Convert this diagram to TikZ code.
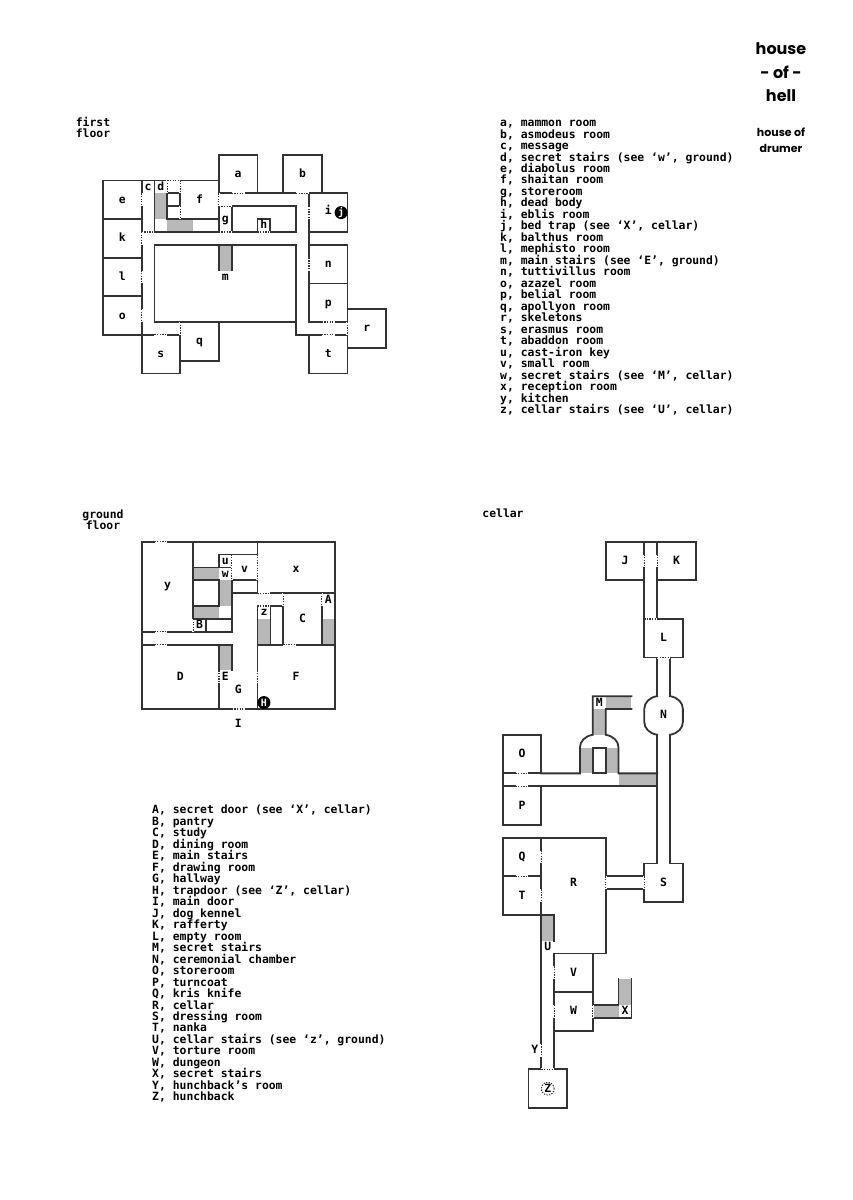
\documentclass[tikz,border=0pt]{standalone}
\usepackage{fontspec}
\setmonofont{DejaVu Sans Mono}
\setsansfont{Poppins}
\definecolor{stairgrey}{gray}{0.72}
\newcommand{\dr}[2]{\draw[white,line width=2.2pt] #1 -- #2; \draw[doorline] #1 -- #2;}
\newcommand{\gr}[2]{\fill[stairgrey] #1 rectangle #2;}
\newcommand{\tightlines}{\lineskiplimit=-20pt\relax}
\tikzset{
 wall/.style={line width=1.8pt,line cap=rect,black!80},
 doorline/.style={line width=1.2pt,black!80,dash pattern=on 1.3pt off 1.3pt},
 lab/.style={font=\ttfamily\bfseries\fontsize{11.4}{11.4}\selectfont,inner sep=0pt,text height=7pt,text depth=0pt},
 blackdot/.style={circle,fill=black,text=white,minimum size=13pt,inner sep=0pt,font=\ttfamily\bfseries\fontsize{10}{10}\selectfont},
 listing/.style={font=\ttfamily\bfseries\fontsize{11.4}{11.48}\selectfont\tightlines,inner sep=0pt,anchor=north west,align=left},
 headtext/.style={font=\ttfamily\bfseries\fontsize{11.4}{11.48}\selectfont\tightlines,inner sep=0pt,align=center},
 titletext/.style={font=\sffamily\bfseries\fontsize{16}{23.5}\selectfont\tightlines,inner sep=0pt,align=center},
 subtitle/.style={font=\sffamily\bfseries\fontsize{11}{16}\selectfont\tightlines,inner sep=0pt,align=center},
 grid1/.style={x=12.87pt,y=-12.87pt},
}
\begin{document}
\begin{tikzpicture}[x=1pt,y=-1pt]
\useasboundingbox (0,0) rectangle (853,1200);
\fill[white] (0,0) rectangle (853,1200);

% titles
\node[titletext] (title) at (781,72.5) {house\\- of -\\hell};
\node[subtitle] (sub) at (781,140) {house of\\drumer};
\node[headtext] (h1) at (93,127.5) {first\\floor};
\node[headtext] (h2) at (103,519.5) {ground\\floor};
\node[headtext] (h3) at (503,513.5) {cellar};

% lists
\node[listing] (l1) at (500,120) {a, mammon room\\b, asmodeus room\\c, message\\d, secret stairs (see ‘w’, ground)\\e, diabolus room\\f, shaitan room\\g, storeroom\\h, dead body\\i, eblis room\\j, bed trap (see ‘X’, cellar)\\k, balthus room\\l, mephisto room\\m, main stairs (see ‘E’, ground)\\n, tuttivillus room\\o, azazel room\\p, belial room\\q, apollyon room\\r, skeletons\\s, erasmus room\\t, abaddon room\\u, cast-iron key\\v, small room\\w, secret stairs (see ‘M’, cellar)\\x, reception room\\y, kitchen\\z, cellar stairs (see ‘U’, cellar)};
\node[listing] (l2) at (152,805) {A, secret door (see ‘X’, cellar)\\B, pantry\\C, study\\D, dining room\\E, main stairs\\F, drawing room\\G, hallway\\H, trapdoor (see ‘Z’, cellar)\\I, main door\\J, dog kennel\\K, rafferty\\L, empty room\\M, secret stairs\\N, ceremonial chamber\\O, storeroom\\P, turncoat\\Q, kris knife\\R, cellar\\S, dressing room\\T, nanka\\U, cellar stairs (see ‘z’, ground)\\V, torture room\\W, dungeon\\X, secret stairs\\Y, hunchback’s room\\Z, hunchback};

% ---------- first floor ----------
\begin{scope}[shift={(103,154.7)},grid1]
\gr{(4,3)}{(5,5)} \gr{(5,5)}{(7,6)} \gr{(9,7)}{(10,9)}
\foreach \a/\b/\c/\d in {9/0/12/3,14/0/17/3,0/2/3/5,0/5/3/8,0/8/3/11,0/11/3/14,3/14/6/17,6/13/9/16,16/3/19/6,16/7/19/10,16/10/19/13,19/12/22/15,16/14/19/17,4/7/15/13,10/4/15/6,5/3/6/4,12/5/13/6}
  \draw[wall] (\a,\b) rectangle (\c,\d);
\draw[wall] (3,2) -- (9,2) -- (9,6) -- (4,6) -- (4,2);
\draw[wall] (3,2) -- (3,14);
\draw[wall] (5,4) -- (5,5) -- (9,5);
\draw[wall] (9,3) -- (16,3);
\draw[wall] (9,4) -- (10,4);
\draw[wall] (9,6) -- (10,6);
\draw[wall] (9,7) -- (9,9) (10,7) -- (10,9);
\draw[wall] (15,13) -- (15,14) -- (16,14);
\draw[wall] (16,6) -- (16,7);
\dr{(10,3)}{(11,3)} \dr{(15,3)}{(16,3)}
\dr{(5,2)}{(5,3)} \dr{(5,2)}{(6,2)} \dr{(6,2)}{(6,3)} \dr{(6,4)}{(6,5)}
\dr{(3,3)}{(3,4)} \dr{(3,6)}{(4,6)} \dr{(3,6)}{(3,7)} \dr{(3,9)}{(3,10)} \dr{(3,12)}{(3,13)}
\dr{(9,3)}{(9,4)} \dr{(9,4)}{(10,4)} \dr{(9,6)}{(10,6)} \dr{(12,6)}{(13,6)}
\dr{(16,4)}{(16,5)} \dr{(16,8)}{(16,9)}
\dr{(4,14)}{(5,14)} \dr{(6,13)}{(6,14)}
\dr{(17,13)}{(18,13)} \dr{(17,14)}{(18,14)} \dr{(19,13)}{(19,14)}
\foreach \n/\t/\x/\y in {la/a/10.5/1.5,lb/b/15.5/1.5,lc/c/3.5/2.5,ld/d/4.5/2.5,le/e/1.5/3.5,lf/f/7.5/3.5,lg/g/9.5/5,lh/h/12.5/5.5,li/i/17.5/4.4,lk/k/1.5/6.5,ll/l/1.5/9.5,lo/o/1.5/12.5,ls/s/4.5/15.5,lq/q/7.5/14.5,ln/n/17.5/8.5,lp/p/17.5/11.5,lt/t/17.5/15.5,lr/r/20.5/13.5,lm/m/9.5/9.5}
  \node[lab] (\n) at (\x,\y) {\t};
\node[blackdot] (lj) at (18.5,4.5) {j};
\end{scope}

% ---------- ground floor ----------
\begin{scope}[shift={(141.7,541.7)},grid1]
\gr{(4,2)}{(6,3)} \gr{(6,3)}{(7,5)} \gr{(4,5)}{(6,6)} \gr{(6,8)}{(7,10)} \gr{(9,6)}{(10,8)} \gr{(14,6)}{(15,8)}
\draw[wall] (0,0) rectangle (15,13);
\draw[wall] (4,0) -- (4,7);
\draw[wall] (0,7) -- (7,7) -- (7,1) -- (6,1) -- (6,2) (6,3) -- (6,5) (6,1) -- (9,1);
\draw[wall] (4,2) -- (7,2) (4,3) -- (6,3) (4,5) -- (6,5) (4,6) -- (7,6);
\draw[wall] (7,3) -- (9,3) (7,4) -- (9,4);
\draw[wall] (9,0) -- (9,4);
\draw[wall] (5,6) -- (5,7);
\draw[wall] (0,8) -- (7,8) -- (7,10) (6,8) -- (6,13);
\draw[wall] (9,5) -- (9,13) (9,8) -- (15,8);
\draw[wall] (9,4) -- (15,4);
\draw[wall] (14,5) -- (14,8) (10,8) -- (10,5) -- (11,5) -- (11,8);
\dr{(1,0)}{(2,0)} \dr{(1,7)}{(2,7)} \dr{(1,8)}{(2,8)}
\dr{(7,1)}{(7,3)} \dr{(9,1)}{(9,3)} \dr{(4,6)}{(4,7)}
\dr{(9,4)}{(10,4)} \dr{(11,4)}{(11,5)} \dr{(14,4)}{(14,5)} \dr{(9,5)}{(10,5)}
\dr{(11,8)}{(12,8)} \dr{(6,10)}{(6,11)} \dr{(9,10)}{(9,11)} \dr{(7,13)}{(8,13)}
\foreach \n/\t/\x/\y in {gy/y/2/3.4,gu/u/6.5/1.5,gw/w/6.5/2.5,gv/v/8/2.1,gx/x/12/2.1,gz/z/9.5/5.5,gA/A/14.5/4.5,gC/C/12.5/6,gB/B/4.5/6.5,gD/D/3/10.5,gE/E/6.5/10.5,gF/F/12/10.5,gG/G/7.5/11.5,gI/I/7.5/14.15}
  \node[lab] (\n) at (\x,\y) {\t};
\node[blackdot] (gH) at (9.5,12.5) {H};
\end{scope}

% ---------- cellar ----------
\begin{scope}[shift={(502.7,541.7)},grid1]
\gr{(8,12)}{(10,13)} \gr{(7,13)}{(8,15)} \gr{(6,16)}{(9,18)} \gr{(9,18)}{(12,19)}
\gr{(3,29)}{(4,31)} \gr{(7,36)}{(9,37)} \gr{(9,34)}{(10,36)}
\foreach \a/\b/\c/\d in {8/0/11/3,12/0/15/3,11/6/14/9,0/15/3/18,0/19/3/22,0/23/3/26,0/26/3/29,4/32/7/35,4/35/7/38,2/41/5/44,11/25/14/28}
  \draw[wall] (\a,\b) rectangle (\c,\d);
\draw[wall,fill=white] (7,16) rectangle (8,18);
\fill[white] (12.1,24.9) rectangle (12.9,25.1);
\draw[wall] (11,0) -- (12,0);
\draw[wall] (11,3) -- (11,6) (12,3) -- (12,6);
\draw[wall] (12,9) -- (12,12) (13,9) -- (13,12);
\draw[wall] (12,12) .. controls (11.4,12.1) and (11,12.5) .. (11,13) -- (11,14) .. controls (11,14.5) and (11.4,14.9) .. (12,15);
\draw[wall] (13,12) .. controls (13.6,12.1) and (14,12.5) .. (14,13) -- (14,14) .. controls (14,14.5) and (13.6,14.9) .. (13,15);
\draw[wall] (12,15) -- (12,25) (13,15) -- (13,25);
\draw[wall] (3,18) -- (6,18) -- (6,16) .. controls (6,15.5) and (6.4,15.1) .. (7,15) -- (7,12) -- (10,12);
\draw[wall] (10,13) -- (8,13) -- (8,15) .. controls (8.6,15.1) and (9,15.5) .. (9,16) -- (9,18) -- (12,18);
\draw[wall] (0,18) -- (0,19);
\draw[wall] (3,19) -- (12,19);
\draw[wall] (3,23) -- (8,23) -- (8,32) -- (4,32);
\draw[wall] (3,29) -- (4,29) -- (4,31);
\draw[wall] (3,29) -- (3,41) (4,32) -- (4,41);
\draw[wall] (8,26) -- (11,26) (8,27) -- (11,27);
\draw[wall] (7,36) -- (9,36) -- (9,34) (10,34) -- (10,37) -- (7,37);
\dr{(11,1)}{(11,2)} \dr{(12,1)}{(12,2)} \dr{(11,6)}{(12,6)} \dr{(12,9)}{(13,9)}
\dr{(1,18)}{(2,18)} \dr{(1,19)}{(2,19)} \dr{(1,26)}{(2,26)}
\dr{(3,24)}{(3,25)} \dr{(3,27)}{(3,28)} \dr{(8,26)}{(8,27)} \dr{(11,26)}{(11,27)}
\dr{(4,33)}{(4,34)} \dr{(4,36)}{(4,37)} \dr{(7,36)}{(7,37)} \dr{(3,39)}{(3,40)} \dr{(3,41)}{(4,41)}
\foreach \n/\t/\x/\y in {cJ/J/9.5/1.5,cK/K/13.5/1.5,cL/L/12.5/7.5,cN/N/12.5/13.5,cM/M/7.5/12.5,cO/O/1.5/16.5,cP/P/1.5/20.5,cQ/Q/1.5/24.5,cR/R/5.5/26.5,cT/T/1.5/27.5,cS/S/12.5/26.5,cU/U/3.5/31.5,cV/V/5.5/33.5,cW/W/5.5/36.5,cX/X/9.5/36.5,cY/Y/2.5/39.5,cZ/Z/3.5/42.5}
  \node[lab] (\n) at (\x,\y) {\t};
\draw[doorline,line width=1pt] (3.5,42.5) circle (6.4pt);
\end{scope}
\end{tikzpicture}
\end{document}
